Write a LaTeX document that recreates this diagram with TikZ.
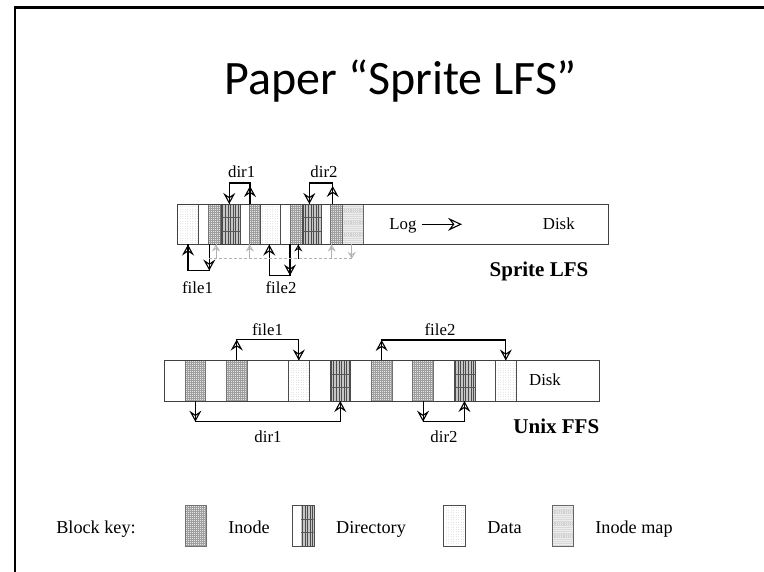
\documentclass[tikz,border=0pt]{standalone}
\usepackage{fontspec}
\setmainfont{Liberation Serif}
\newfontfamily\titlefam{Carlito}
\usetikzlibrary{arrows.meta}
\tikzset{
  blk/.style={minimum height=40.5pt, inner sep=0pt, outer sep=0pt, anchor=north west},
  stripbox/.style={blk, draw=black!75, line width=0.8pt, fill=white},
  inodeblk/.style={blk, draw=black!55, line width=0.5pt, fill=gray!20,
    path picture={
      \foreach \k in {1,...,12} \draw[gray!75, line width=0.45pt]
        ([xshift=\k*2pt]path picture bounding box.north west) -- ([xshift=\k*2pt]path picture bounding box.south west);
      \foreach \k in {1,...,21} \draw[gray!75, line width=0.45pt]
        ([yshift=-\k*2pt]path picture bounding box.north west) -- ([yshift=-\k*2pt]path picture bounding box.north east);
    }},
  dirblk/.style={blk, draw=black!70, line width=0.5pt, fill=gray!45,
    path picture={
      \foreach \k in {0,...,9} \draw[black!70, line width=0.7pt]
        ([xshift=1.2pt+\k*2.6pt]path picture bounding box.north west) -- ([xshift=1.2pt+\k*2.6pt]path picture bounding box.south west);
      \foreach \k in {1,2} \draw[black!65, line width=0.5pt]
        ([yshift=-\k*13.5pt]path picture bounding box.north west) -- ([yshift=-\k*13.5pt]path picture bounding box.north east);
    }},
  datablk/.style={blk, draw=black!70, line width=0.6pt, fill=white,
    path picture={
      \foreach \k in {1,...,9} \draw[gray!20, line width=0.4pt, dotted]
        ([xshift=\k*2.5pt]path picture bounding box.north west) -- ([xshift=\k*2.5pt]path picture bounding box.south west);
    }},
  mapblk/.style={blk, draw=black!60, line width=0.5pt, fill=gray!14,
    path picture={
      \foreach \k in {1,...,12} \draw[gray!40, line width=0.4pt, dotted]
        ([xshift=\k*1.8pt]path picture bounding box.north west) -- ([xshift=\k*1.8pt]path picture bounding box.south west);
      \foreach \k in {1,...,20} \draw[gray!30, line width=0.3pt]
        ([yshift=-\k*2pt]path picture bounding box.north west) -- ([yshift=-\k*2pt]path picture bounding box.north east);
    }},
  conn/.style={draw=black, line width=1.1pt},
  bigtip/.style={-{Stealth[length=11pt, width=12pt, inset=4pt, fill=white, line width=1.1pt]}},
  gline/.style={draw=gray!60, line width=0.8pt},
  gtip/.style={-{Stealth[length=7pt, width=8pt, inset=2.5pt, fill=white, line width=0.8pt]}},
  lbl/.style={font=\fontsize{16.8}{20}\selectfont, inner sep=0pt, anchor=base},
  keylbl/.style={font=\fontsize{18.2}{21}\selectfont, inner sep=0pt, anchor=base},
  boldlbl/.style={font=\bfseries\fontsize{21}{24}\selectfont, inner sep=0pt, anchor=base},
}
\begin{document}
\begin{tikzpicture}[x=1pt,y=-1pt]
\useasboundingbox (0,0) rectangle (764,572);
\fill[white] (0,0) rectangle (764,572);
% slide frame
\draw[line width=2.6pt] (15,572) -- (15,7.5) -- (764,7.5);
% title
\node[font=\titlefam\fontsize{48}{56}\selectfont, inner sep=0pt, anchor=base] (title) at (401,95) {Paper “Sprite LFS”};

% ---------------- Sprite LFS ----------------
\node[stripbox, minimum width=430.5pt] (lfs) at (177.5,204) {};
\node[datablk, minimum width=21pt] (D1) at (177.5,204) {};
\node[inodeblk, minimum width=12pt] (I1) at (208.5,204) {};
\node[dirblk, minimum width=18.5pt] (R1) at (221.5,204) {};
\node[inodeblk, minimum width=10.5pt] (I2) at (249.5,204) {};
\node[datablk, minimum width=20.5pt] (D2) at (260,204) {};
\node[inodeblk, minimum width=12pt] (I3) at (290,204) {};
\node[dirblk, minimum width=19.5pt] (R2) at (302,204) {};
\node[inodeblk, minimum width=12pt] (I4) at (330,204) {};
\node[mapblk, minimum width=20.5pt] (IM) at (342.5,204) {};
\draw[draw=black!75, line width=0.8pt] (lfs.north west) rectangle (lfs.south east);

\node[lbl] (dir1a) at (241.7,178) {dir1};
\node[lbl] (dir2a) at (324,178) {dir2};
\node[lbl] (file1a) at (197.5,294) {file1};
\node[lbl] (file2a) at (281,294) {file2};
\node[lbl] (log) at (403,229.3) {Log};
\node[lbl] (disk1) at (558.8,229.3) {Disk};
\node[boldlbl] (lfsname) at (539,277) {Sprite LFS};

\coordinate (logstart) at (421.7,224.3);
\coordinate (logend) at (462,224.3);
\draw[conn, line width=0.9pt, -{Stealth[length=14pt, width=13pt, inset=5pt, fill=white, line width=1.1pt]}] (logstart) -- (logend);

% dir1: inode I2 -> directory R1
\coordinate (a0) at ([xshift=0.5pt]I2.north west);
\coordinate (a1) at ([yshift=21pt]a0);
\draw[conn, bigtip] (a0) -- ([yshift=-3pt]a1);
\draw[conn, bigtip] (a1) -| ([xshift=-1.5pt]R1.north);
\draw[conn] (a0) -- (a1) -| ([xshift=-1.5pt]R1.north);
% dir2: inode I4 -> directory R2
\coordinate (b0) at ([xshift=2.7pt]I4.north west);
\coordinate (b1) at ([yshift=21pt]b0);
\draw[conn, bigtip] (b0) -- ([yshift=-3pt]b1);
\draw[conn, bigtip] (b1) -| ([xshift=-2.4pt]R2.north);
\draw[conn] (b0) -- (b1) -| ([xshift=-2.4pt]R2.north);
% file1: inode I1 -> data D1
\coordinate (c0) at ([xshift=0.8pt]I1.south west);
\coordinate (c1) at ([yshift=-26pt]c0);
\draw[conn, bigtip] (c0) -- (c1);
\draw[conn, bigtip] (c1) -| (D1.south);
\draw[conn] (c0) -- (c1) -| (D1.south);
% file2: inode I3 -> data D2
\coordinate (d0) at (I3.south west);
\coordinate (d1) at ([yshift=-31pt]d0);
\draw[conn, bigtip] (d0) -- (d1);
\draw[conn, bigtip] (d1) -| ([xshift=-1pt]D2.south);
\draw[conn] (d0) -- (d1) -| ([xshift=-1pt]D2.south);

% inode map pointers
\coordinate (m0) at ([xshift=-1pt]IM.south);
\coordinate (m1) at ([yshift=-14.3pt]m0);
\draw[gline, gtip] (m0) -- (m1);
\draw[gline] (m0) -- (m1);
\draw[gline, dash pattern=on 3pt off 2pt] (m1) -- (I1.south west |- m1);
\coordinate (g1) at ([xshift=1.5pt]I1.south);
\coordinate (g2) at ([xshift=0.3pt]I2.south west);
\coordinate (g3) at ([xshift=8.3pt]I3.south west);
\coordinate (g4) at ([xshift=1.7pt]I4.south west);
\foreach \g in {g1,g2,g4} {
  \draw[gline, gtip] (\g |- m1) -- (\g);
  \draw[gline] (\g |- m1) -- (\g);
}
\draw[gline, draw=black, gtip] (g3 |- m1) -- (g3);
\draw[gline, draw=black] (g3 |- m1) -- (g3);

% ---------------- Unix FFS ----------------
\node[stripbox, minimum width=435pt] (ffs) at (164.3,360.5) {};
\node[inodeblk, minimum width=20.7pt] (F1) at (185.0,360.5) {};
\node[inodeblk, minimum width=20.7pt] (F3) at (226.4,360.5) {};
\node[datablk, minimum width=20.7pt] (F6) at (288.5,360.5) {};
\node[dirblk, minimum width=20.7pt] (F8) at (329.9,360.5) {};
\node[inodeblk, minimum width=20.7pt] (F10) at (371.3,360.5) {};
\node[inodeblk, minimum width=20.7pt] (F12) at (412.7,360.5) {};
\node[dirblk, minimum width=20.7pt] (F14) at (454.1,360.5) {};
\node[datablk, minimum width=20.7pt] (F16) at (495.5,360.5) {};
\draw[draw=black!75, line width=0.8pt] (ffs.north west) rectangle (ffs.south east);

\node[lbl] (ffile1) at (267.5,336) {file1};
\node[lbl] (ffile2) at (440,336) {file2};
\node[lbl] (fdir1) at (268,442.5) {dir1};
\node[lbl] (fdir2) at (444,442.5) {dir2};
\node[lbl] (disk2) at (545,386) {Disk};
\node[boldlbl] (ffsname) at (556.3,433.5) {Unix FFS};

\coordinate (e1) at ([yshift=21pt]F3.north);
\draw[conn, bigtip] (F3.north) -- (e1);
\draw[conn, bigtip] (e1) -| (F6.north);
\draw[conn] (F3.north) -- (e1) -| (F6.north);
\coordinate (e2) at ([yshift=20.5pt]F10.north);
\draw[conn, bigtip] (F10.north) -- (e2);
\draw[conn, bigtip] (e2) -| (F16.north);
\draw[conn] (F10.north) -- (e2) -| (F16.north);
\coordinate (e3) at ([yshift=-20.7pt]F1.south);
\draw[conn, bigtip] (F1.south) -- (e3);
\draw[conn, bigtip] (e3) -| (F8.south);
\draw[conn] (F1.south) -- (e3) -| (F8.south);
\coordinate (e4) at ([yshift=-20.7pt]F12.south);
\draw[conn, bigtip] (F12.south) -- (e4);
\draw[conn, bigtip] (e4) -| (F14.south);
\draw[conn] (F12.south) -- (e4) -| (F14.south);

% ---------------- Block key ----------------
\node[keylbl] (bk) at (96,533) {Block key:};
\node[inodeblk, minimum width=21pt, minimum height=41pt] (kI) at (185,505) {};
\node[keylbl] (kIt) at (249,533) {Inode};
\node[blk, draw=black!70, line width=0.6pt, fill=white, minimum width=21.5pt, minimum height=41pt] (kR) at (292.5,505) {};
\node[dirblk, anchor=north east, draw=none, minimum width=12.5pt, minimum height=40.5pt] (kRs) at ([xshift=-0.3pt,yshift=-0.3pt]kR.north east) {};
\draw[draw=black!70, line width=0.6pt] (kR.north west) rectangle (kR.south east);
\node[keylbl] (kRt) at (371,533) {Directory};
\node[datablk, minimum width=21.5pt, minimum height=41pt] (kD) at (443.6,505) {};
\node[keylbl] (kDt) at (504.5,533) {Data};
\node[mapblk, minimum width=21.5pt, minimum height=41pt] (kM) at (552,505) {};
\node[keylbl] (kMt) at (634,533) {Inode map};
\end{tikzpicture}
\end{document}
